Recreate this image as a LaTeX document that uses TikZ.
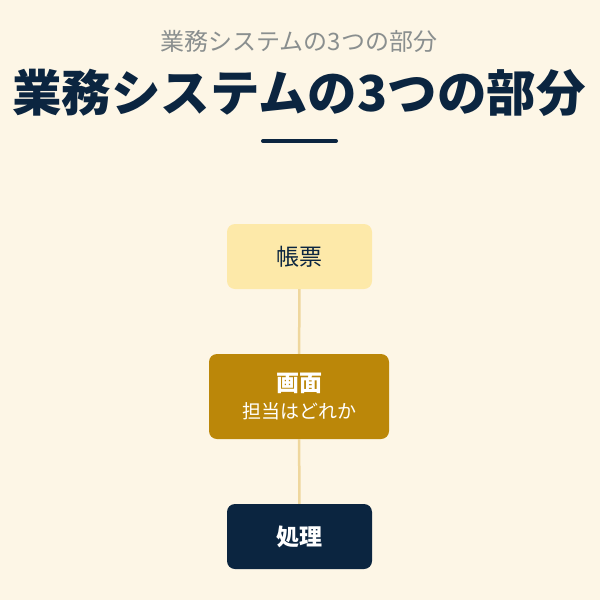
\documentclass[tikz,border=0pt]{standalone}
\usepackage{fontspec}
\setmainfont{Noto Sans CJK JP}
\definecolor{bgc}{HTML}{FDF6E6}
\definecolor{navy}{HTML}{0B2540}
\definecolor{gold}{HTML}{BB8709}
\definecolor{paleY}{HTML}{FDE9A9}
\definecolor{linec}{HTML}{EFD79D}
\definecolor{subg}{HTML}{8A8F8F}
\tikzset{
  box/.style={rounded corners=8pt, minimum width=145pt, minimum height=65pt, inner sep=0pt, align=center},
  conn/.style={draw=linec, line width=2.5pt},
}
\begin{document}
\begin{tikzpicture}[x=1pt,y=-1pt]
\fill[bgc] (0,0) rectangle (600,600);
\useasboundingbox (0,0) rectangle (600,600);
\node[text=subg, font=\fontsize{24}{28}\selectfont] (sub) at (299,41) {業務システムの3つの部分};
\node[text=navy, font=\fontsize{49.5}{56}\selectfont\bfseries] (title) at (299,93) {業務システムの3つの部分};
\draw[navy, line width=4pt, line cap=round] (263,141) -- (336,141);
\node[box, fill=paleY, text=navy, font=\fontsize{23}{26}\selectfont] (a) at (299.5,256.5) {帳票};
\node[box, fill=gold, text=white, minimum width=180pt, minimum height=85pt] (b) at (299,396.5) {{\fontsize{23}{30}\selectfont\bfseries 画面}\\[7pt]{\fontsize{19}{24}\selectfont 担当はどれか}};
\node[box, fill=navy, text=white, font=\fontsize{23}{26}\selectfont\bfseries] (c) at (299.5,536.5) {処理};
\draw[conn] (a) -- (b);
\draw[conn] (b) -- (c);
\end{tikzpicture}
\end{document}
